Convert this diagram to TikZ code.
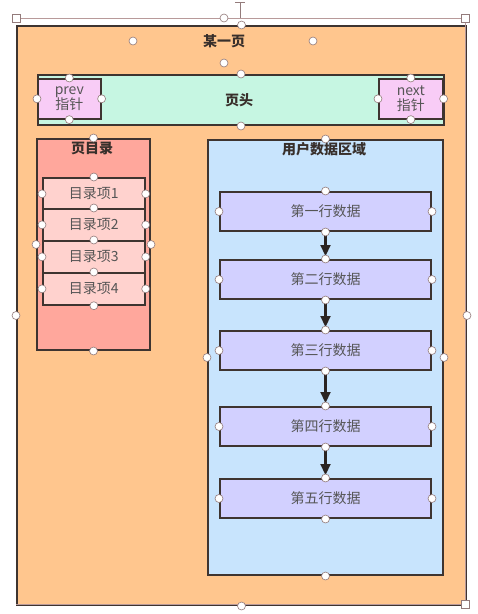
\documentclass[tikz,border=0pt]{standalone}
\usepackage{fontspec}
\newfontfamily\cjk{Noto Sans CJK SC}
\usetikzlibrary{arrows.meta}
\definecolor{pageorange}{HTML}{FFC68E}
\definecolor{edge}{HTML}{3E3430}
\definecolor{headmint}{HTML}{C6F6E2}
\definecolor{ptrpink}{HTML}{F8CCF6}
\definecolor{dirsalmon}{HTML}{FFA79C}
\definecolor{itempink}{HTML}{FFD2CE}
\definecolor{userblue}{HTML}{C8E4FD}
\definecolor{rowlav}{HTML}{D2D0FF}
\definecolor{selline}{HTML}{B89A9A}
\definecolor{txtgray}{HTML}{555555}
\begin{document}
\begin{tikzpicture}[x=1pt,y=-1pt,
  font=\cjk,
  box/.style={draw=edge,line width=2pt,anchor=north west,inner sep=0pt},
  title/.style={font=\cjk\bfseries\fontsize{14}{16}\selectfont,text=edge!90!black},
  itemtxt/.style={font=\cjk\fontsize{14}{16}\selectfont,text=txtgray},
  hdl/.style={circle,draw=selline!80!black,fill=white,line width=0.6pt,inner sep=0pt,minimum size=8pt},
  sq/.style={draw=selline!80!black,fill=white,line width=0.6pt,inner sep=0pt,minimum size=8pt},
  flow/.style={draw=edge!70!black,line width=2.2pt,shorten >=3pt,shorten <=3pt,-{Triangle[length=11pt,width=10pt]}}]
\useasboundingbox (0,0) rectangle (478,614);
\fill[white] (0,0) rectangle (478,614);

% the page
\node[box,fill=pageorange,minimum width=449pt,minimum height=579pt] (page) at (16,25) {};
\node[title] (pagetitle) at (224,41) {某一页};

% page header with prev / next pointers
\node[box,fill=headmint,minimum width=406pt,minimum height=50pt] (head) at (37,74) {};
\node[title] (headtxt) at (239,100) {页头};
\node[box,fill=ptrpink,minimum width=63pt,minimum height=40pt,line width=1.6pt] (prev) at (37,78) {};
\node[itemtxt,align=center,font=\cjk\fontsize{14}{15}\selectfont] at (prev.center) {prev\\指针};
\node[box,fill=ptrpink,minimum width=64pt,minimum height=40pt,line width=1.6pt] (next) at (378,78) {};
\node[itemtxt,align=center,font=\cjk\fontsize{14}{15}\selectfont] at (next.center) {next\\指针};

% page directory
\node[box,fill=dirsalmon,minimum width=113pt,minimum height=211pt] (dir) at (36,138) {};
\node[title] (dirtxt) at (92,148) {页目录};
\foreach \i/\y in {1/177,2/208,3/240,4/272}{
  \node[box,fill=itempink,minimum width=102pt,minimum height=32pt,line width=1.7pt] (item\i) at (42,\y) {};
  \node[itemtxt] at (item\i.center) {目录项\i};
}

% user records area
\node[box,fill=userblue,minimum width=235pt,minimum height=435pt] (user) at (207,139) {};
\node[title] (usertxt) at (324,149) {用户数据区域};
\foreach \i/\y/\t in {1/191/第一行数据,2/259/第二行数据,3/330/第三行数据,4/406/第四行数据,5/478/第五行数据}{
  \node[box,fill=rowlav,minimum width=211pt,minimum height=39pt] (row\i) at (219,\y) {};
  \node[itemtxt] at (row\i.center) {\t};
}
\foreach \a/\b in {1/2,2/3,3/4,4/5}{
  \draw[flow] (row\a.south) -- (row\b.north);
}

% selection frame with rotation grip
\draw[selline,line width=0.7pt] (16,18) -- (465,18);
\draw[selline,line width=0.7pt] (465,18) -- (465,604) -- (16,604);
\draw[selline!80!black,line width=1pt] (240,2) -- (240,18);
\draw[selline!80!black,line width=1pt] (235,2) -- (245,2);
\node[sq] (c1) at (16,18) {};
\node[sq] (c2) at (465,18) {};
\node[sq] (c3) at (465,604) {};
\node[hdl] at (224,18) {};

% connection handles
\node[hdl] at (page.north) {};
\node[hdl] at (page.west) {};
\node[hdl] at (page.east) {};
\node[hdl] at (page.south) {};
\node[hdl] at (133,41) {};
\node[hdl] at (313,41) {};
\node[hdl] at (224,63) {};
\node[hdl] at (head.north) {};
\node[hdl] at (head.south) {};
\foreach \n in {prev,next}{
  \node[hdl] at (\n.north) {};
  \node[hdl] at (\n.south) {};
  \node[hdl] at (\n.west) {};
  \node[hdl] at (\n.east) {};
}
\node[hdl] at (dir.north) {};
\node[hdl] at (dir.south) {};
\node[hdl] at (dir.west) {};
\node[hdl] at (dir.east) {};
\foreach \i in {1,...,4}{
  \node[hdl] at (item\i.north) {};
  \node[hdl] at (item\i.west) {};
  \node[hdl] at (item\i.east) {};
}
\node[hdl] at (item4.south) {};
\node[hdl] at (user.north) {};
\node[hdl] at (user.south) {};
\node[hdl] at (user.west) {};
\node[hdl] at (user.east) {};
\foreach \i in {1,...,5}{
  \node[hdl] at (row\i.north) {};
  \node[hdl] at (row\i.south) {};
  \node[hdl] at (row\i.west) {};
  \node[hdl] at (row\i.east) {};
}
\end{tikzpicture}
\end{document}
